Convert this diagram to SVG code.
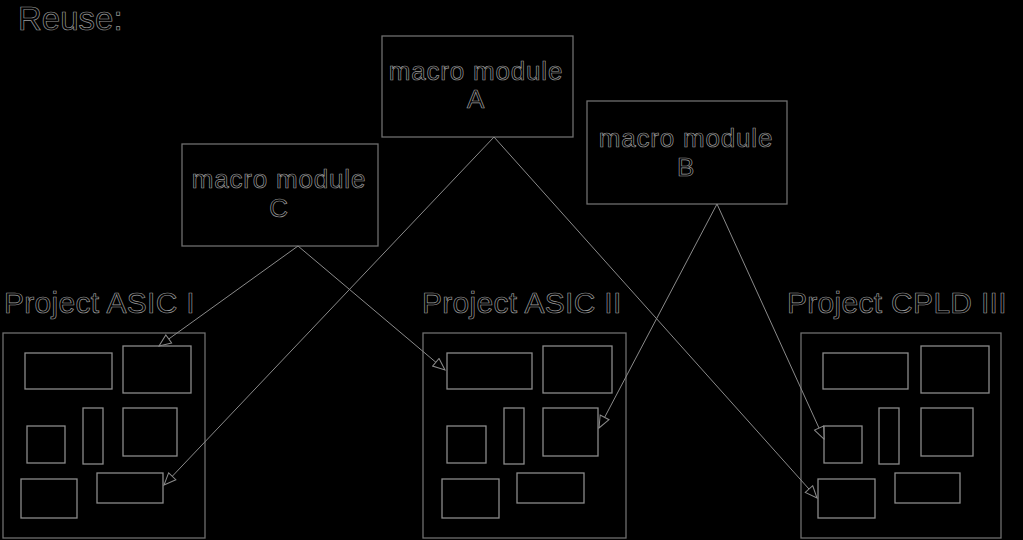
<svg xmlns="http://www.w3.org/2000/svg" width="1023" height="540" viewBox="0 0 1023 540">
<style>
.bg{fill:#000}
.box{fill:none;stroke:#6e6e6e;stroke-width:1.3}
.blk{fill:none;stroke:#8a8a8a;stroke-width:1.3}
.t{font-family:"Liberation Sans",Arial,sans-serif;fill:#000;stroke:#9a9a9a;stroke-width:0.7}
.m{font-size:26px;text-anchor:middle;letter-spacing:0.8px}
.p{font-size:30px;letter-spacing:0.3px}
.r{font-size:33px}
.conn{fill:none;stroke:#8a8a8a;stroke-width:1;marker-end:url(#ah)}
</style>
<defs>
<marker id="ah" markerWidth="14" markerHeight="12" refX="13" refY="6" orient="auto" markerUnits="userSpaceOnUse">
<path d="M1,1 L13,6 L1,11 Z" fill="#000" stroke="#8a8a8a" stroke-width="1"/>
</marker>
</defs>
<rect class="bg" x="0" y="0" width="1023" height="540"/>
<g id="title"><text class="t r" x="18" y="30">Reuse:</text></g>
<g id="macroA">
<rect class="box" x="382" y="36" width="191" height="101"/>
<text class="t m" x="476" y="80">macro module</text>
<text class="t m" x="476" y="108">A</text>
</g>
<g id="macroB">
<rect class="box" x="587" y="101" width="200" height="103"/>
<text class="t m" x="686" y="147">macro module</text>
<text class="t m" x="686" y="176">B</text>
</g>
<g id="macroC">
<rect class="box" x="182" y="144" width="196" height="102"/>
<text class="t m" x="279" y="188">macro module</text>
<text class="t m" x="279" y="217">C</text>
</g>
<g id="projectI">
<text class="t p" x="4" y="313">Project ASIC I</text>
<rect class="box" x="3" y="333" width="202" height="205"/>
<rect class="blk" x="25" y="353" width="87" height="36"/>
<rect class="blk" x="123" y="346" width="68" height="47"/>
<rect class="blk" x="27" y="426" width="38" height="37"/>
<rect class="blk" x="83" y="408" width="20" height="56"/>
<rect class="blk" x="123" y="408" width="54" height="48"/>
<rect class="blk" x="21" y="479" width="56" height="39"/>
<rect class="blk" x="97" y="473" width="66" height="30"/>
</g>
<g id="projectII">
<text class="t p" x="422" y="313">Project ASIC II</text>
<rect class="box" x="423" y="333" width="203" height="205"/>
<rect class="blk" x="447" y="353" width="85" height="36"/>
<rect class="blk" x="543" y="346" width="69" height="47"/>
<rect class="blk" x="447" y="426" width="39" height="37"/>
<rect class="blk" x="504" y="408" width="20" height="56"/>
<rect class="blk" x="543" y="408" width="55" height="48"/>
<rect class="blk" x="442" y="479" width="57" height="39"/>
<rect class="blk" x="517" y="473" width="67" height="30"/>
</g>
<g id="projectIII">
<text class="t p" x="787" y="313">Project CPLD III</text>
<rect class="box" x="801" y="333" width="200" height="205"/>
<rect class="blk" x="823" y="353" width="85" height="36"/>
<rect class="blk" x="921" y="346" width="68" height="47"/>
<rect class="blk" x="824" y="426" width="38" height="37"/>
<rect class="blk" x="879" y="408" width="20" height="56"/>
<rect class="blk" x="921" y="408" width="52" height="48"/>
<rect class="blk" x="818" y="479" width="57" height="39"/>
<rect class="blk" x="895" y="473" width="65" height="30"/>
</g>
<g id="connectors">
<path class="conn" d="M298,246 L159,346"/>
<path class="conn" d="M298,246 L445,370"/>
<path class="conn" d="M494,137 L164,485"/>
<path class="conn" d="M494,137 L817,498"/>
<path class="conn" d="M717,204 L599,428"/>
<path class="conn" d="M717,204 L824,439"/>
</g>
</svg>
